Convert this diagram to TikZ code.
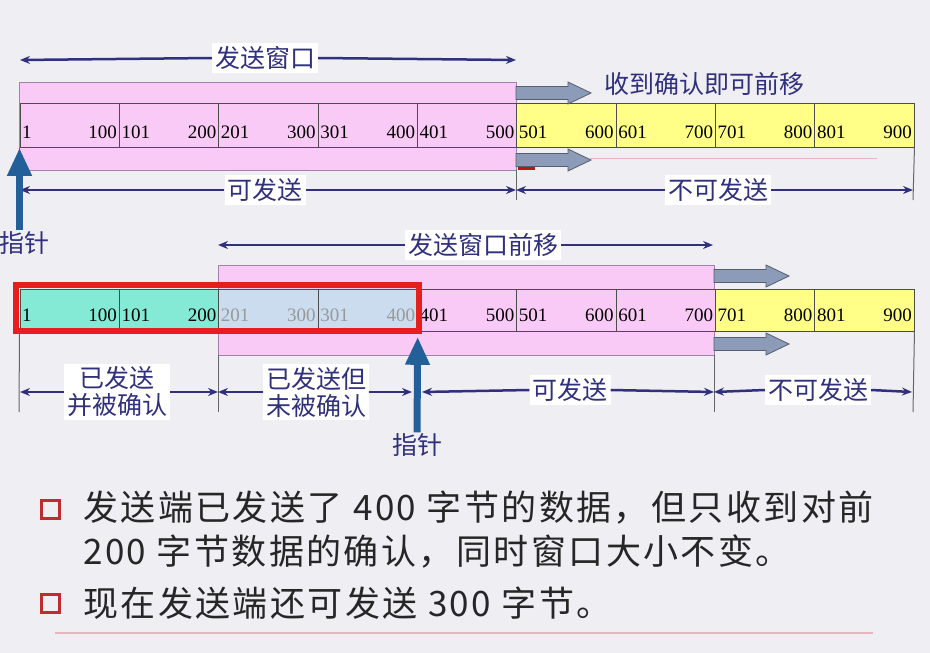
\documentclass[tikz,border=0pt]{standalone}
\usepackage{fontspec}
\setmainfont{Liberation Serif}
\newfontfamily\cjk{Noto Sans CJK SC}
\newfontfamily\cjkwide{Noto Sans CJK SC}[LetterSpace=7]
\usetikzlibrary{arrows.meta,positioning}

\definecolor{bg}{RGB}{238,238,243}
\definecolor{winpink}{RGB}{250,202,246}
\definecolor{winline}{RGB}{160,130,175}
\definecolor{celly}{RGB}{255,255,135}
\definecolor{cellg}{RGB}{132,234,214}
\definecolor{cellb}{RGB}{202,220,238}
\definecolor{navy}{RGB}{48,48,125}
\definecolor{ptrblue}{RGB}{35,95,152}
\definecolor{mvgray}{RGB}{140,156,184}
\definecolor{framered}{RGB}{232,30,30}
\definecolor{bulred}{RGB}{190,45,45}
\definecolor{rulepink}{RGB}{232,180,192}

\tikzset{
  win/.style={fill=winpink, draw=winline, line width=1pt},
  cell/.style={draw=black!70, line width=0.8pt, minimum width=99.35pt, inner sep=0pt, anchor=north west},
  num/.style={font=\fontsize{19}{19}\selectfont, inner sep=0pt},
  lbl/.style={font=\cjk\fontsize{25}{27}\selectfont, text=navy, fill=white, inner sep=3pt, align=center},
  dimto/.style={navy, line width=2.5pt, -{Stealth[length=10pt,width=8pt]}},
  tickline/.style={black!60, line width=1pt},
  ptr/.style={ptrblue, line width=7pt, -{Triangle[length=28pt,width=23pt]}},
  mv/.style={fill=mvgray, draw=mvgray!60!black, line width=0.8pt},
  bul/.style={draw=bulred, line width=3pt, minimum size=18pt, inner sep=0pt},
  txt/.style={font=\cjkwide\fontsize{35}{35}\selectfont, text=black!85, inner sep=0pt}
}

\begin{document}
\begin{tikzpicture}[x=1pt,y=-1pt]
    \useasboundingbox (0,0) rectangle (930,653);
    \fill[bg] (0,0) rectangle (930,653);

    % window before the acknowledgement
    \draw[win] (19,82) rectangle (516,170);
    \foreach \i/\c in {0/winpink,1/winpink,2/winpink,3/winpink,4/winpink,5/celly,6/celly,7/celly,8/celly}{
        \pgfmathtruncatemacro\lo{100*\i+1}
        \pgfmathtruncatemacro\hi{100*\i+100}
        \node[cell, fill=\c, minimum height=44pt] (a\i) at ({19.5+99.35*\i},103) {};
        \node[num, anchor=base west] (al\i) at ([xshift=2.5pt,yshift=-13pt]a\i.west) {\lo};
        \node[num, anchor=base east] (ar\i) at ([xshift=-2.5pt,yshift=-13pt]a\i.east) {\hi};
    }

    % window after the acknowledgement
    \draw[win] (218,265) rectangle (714,355);
    \foreach \i/\c/\t in {0/cellg/black,1/cellg/black,2/cellb/black!40,3/cellb/black!40,4/winpink/black,5/winpink/black,6/winpink/black,7/celly/black,8/celly/black}{
        \pgfmathtruncatemacro\lo{100*\i+1}
        \pgfmathtruncatemacro\hi{100*\i+100}
        \node[cell, fill=\c, minimum height=42pt] (b\i) at ({19.5+99.35*\i},289) {};
        \node[num, text=\t, anchor=base west] (bl\i) at ([xshift=2.5pt,yshift=-11pt]b\i.west) {\lo};
        \node[num, text=\t, anchor=base east] (br\i) at ([xshift=-2.5pt,yshift=-11pt]b\i.east) {\hi};
    }
    \draw[framered, line width=6pt] (16,285) rectangle (419,331);

    % the window moves on
    \foreach \p in {(516,93),(516,160),(714,276),(714,344)}
        \draw[mv] \p ++(0,-6.5) -- ++(52,0) -- ++(0,-4.5) -- ++(23,11) -- ++(-23,11) -- ++(0,-4.5) -- ++(-52,0) -- cycle;
    \draw[rulepink, line width=1pt] (590,158) -- (877,158);
    \draw[framered!80!black, line width=3pt] (518,168) -- (535,168);
    \node[font=\cjk\fontsize{25}{27}\selectfont, text=navy, inner sep=0pt] (mvtxt) at (704,84) {收到确认即可前移};

    % top row spans
    \draw[tickline] (a0.south west) -- (19,200);
    \draw[tickline] (516,170) -- (516,200);
    \draw[tickline] (a8.south east) -- (913,200);
    \coordinate (wl) at (20,60);
    \coordinate (wr) at (516,60);
    \node[lbl] (w1) at (265,58) {发送窗口};
    \draw[dimto] (w1.west) -- (wl);
    \draw[dimto] (w1.east) -- (wr);
    \coordinate (u0) at (20,190);
    \coordinate (u1) at (516,190);
    \coordinate (u2) at (913,190);
    \node[lbl] (u01) at (265,190) {可发送};
    \node[lbl] (u12) at (718,190) {不可发送};
    \draw[dimto] (u01.west) -- (u0);
    \draw[dimto] (u01.east) -- (u1);
    \draw[dimto] (u12.west) -- (u1);
    \draw[dimto] (u12.east) -- (u2);

    % second row spans
    \draw[tickline] (b0.south west) -- (19,412);
    \draw[tickline] (218,355) -- (218,412);
    \draw[tickline] (714,355) -- (714,412);
    \draw[tickline] (b8.south east) -- (913,412);
    \coordinate (vl) at (218,245);
    \coordinate (vr) at (713,245);
    \node[lbl] (v1) at (483,245) {发送窗口前移};
    \draw[dimto] (v1.west) -- (vl);
    \draw[dimto] (v1.east) -- (vr);
    \coordinate (d0) at (20,392);
    \coordinate (d1) at (218,392);
    \coordinate (d2) at (412,392);
    \coordinate (d3) at (422,392);
    \coordinate (d4) at (714,392);
    \coordinate (d5) at (912,392);
    \node[lbl] (e1) at (117,392) {已发送\\并被确认};
    \node[lbl] (e2) at (316,392) {已发送但\\未被确认};
    \node[lbl] (e3) at (570,390) {可发送};
    \node[lbl] (e4) at (818,390) {不可发送};
    \draw[dimto] (e1.west) -- (d0);
    \draw[dimto] (e1.east) -- (d1);
    \draw[dimto] (e2.west) -- (d1);
    \draw[dimto] (e2.east) -- (d2);
    \draw[dimto] (e3.west) -- (d3);
    \draw[dimto] (e3.east) -- (d4);
    \draw[dimto] (e4.west) -- (d4);
    \draw[dimto] (e4.east) -- (d5);

    % pointers
    \node[lbl, fill=none, inner sep=1pt] (k1) at (24,243) {指针};
    \draw[ptr] (a0.south west |- k1.north) -- (a0.south west);
    \node[lbl, fill=none, inner sep=1pt] (k2) at (417,445) {指针};
    \draw[ptr] (k2.north) -- ([yshift=-5pt]b3.south east);

    % notes
    \node[bul] (q1) at (50,509) {};
    \node[txt, anchor=west] (s1) at (83,508) {发送端已发送了 400 字节的数据，但只收到对前};
    \node[txt, anchor=west] (s2) at (83,552) {200 字节数据的确认，同时窗口大小不变。};
    \node[bul] (q2) at (50,603) {};
    \node[txt, anchor=west] (s3) at (83,603) {现在发送端还可发送 300 字节。};
    \draw[rulepink, line width=1.5pt] (55,633) -- (873,633);
\end{tikzpicture}
\end{document}
